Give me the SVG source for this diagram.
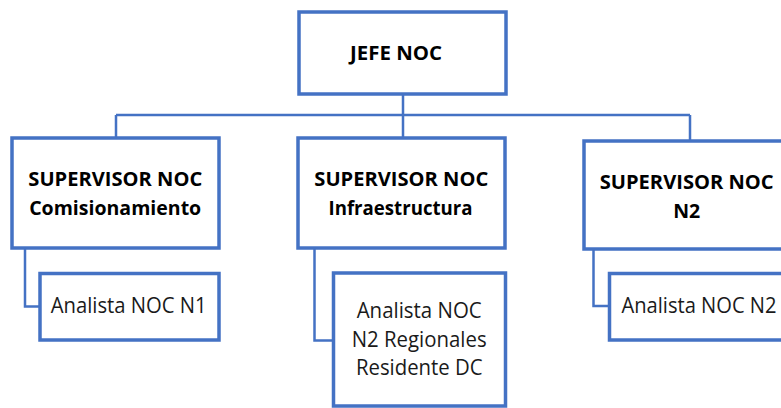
<svg xmlns="http://www.w3.org/2000/svg" width="781" height="408" viewBox="0 0 781 408">
<style>
.box{fill:#fff;stroke:#4472C4;stroke-width:3.5}
.con{fill:none;stroke:#4472C4;stroke-width:2.5}
.b{font-family:"Open Sans","Liberation Sans",sans-serif;font-weight:bold;font-size:19px;fill:#000;text-anchor:middle}
.n{font-family:"Open Sans","Liberation Sans",sans-serif;font-size:21px;fill:#1a1a1a;text-anchor:middle}
</style>
<rect width="781" height="408" fill="#fff"/>
<g id="connectors">
<path class="con" d="M403 94 V115 M116 115 H690 M116 115 V138 M403 115 V138 M690 115 V141"/>
<path class="con" d="M25 248 V306.5 H40"/>
<path class="con" d="M314.5 248 V340.5 H333"/>
<path class="con" d="M593.5 249 V306 H609"/>
</g>
<g id="jefe">
<rect class="box" x="299" y="12" width="207" height="82"/>
<text class="b" x="396" y="60" textLength="92" lengthAdjust="spacingAndGlyphs">JEFE NOC</text>
</g>
<g id="sup1">
<rect class="box" x="12" y="138" width="207" height="110"/>
<text class="b" x="115.3" y="186" textLength="174" lengthAdjust="spacingAndGlyphs">SUPERVISOR NOC</text>
<text class="b" x="115.2" y="215" textLength="172" lengthAdjust="spacingAndGlyphs">Comisionamiento</text>
</g>
<g id="sup2">
<rect class="box" x="298" y="138" width="207" height="110"/>
<text class="b" x="401.3" y="186" textLength="174" lengthAdjust="spacingAndGlyphs">SUPERVISOR NOC</text>
<text class="b" x="400.5" y="215" textLength="144" lengthAdjust="spacingAndGlyphs">Infraestructura</text>
</g>
<g id="sup3">
<rect class="box" x="584" y="141" width="210" height="108"/>
<text class="b" x="686.7" y="189" textLength="174" lengthAdjust="spacingAndGlyphs">SUPERVISOR NOC</text>
<text class="b" x="686.7" y="218" textLength="27" lengthAdjust="spacingAndGlyphs">N2</text>
</g>
<g id="an1">
<rect class="box" x="40" y="273.5" width="179" height="66.5"/>
<text class="n" x="128.7" y="313" textLength="156" lengthAdjust="spacingAndGlyphs">Analista NOC N1</text>
</g>
<g id="an2">
<rect class="box" x="333.5" y="273" width="172" height="133"/>
<text class="n" x="419.2" y="318" textLength="125" lengthAdjust="spacingAndGlyphs">Analista NOC</text>
<text class="n" x="419.2" y="346.7" textLength="135" lengthAdjust="spacingAndGlyphs">N2 Regionales</text>
<text class="n" x="419.3" y="375" textLength="126.7" lengthAdjust="spacingAndGlyphs">Residente DC</text>
</g>
<g id="an3">
<rect class="box" x="609.5" y="273.5" width="182" height="66.5"/>
<text class="n" x="699" y="313" textLength="155" lengthAdjust="spacingAndGlyphs">Analista NOC N2</text>
</g>
</svg>
